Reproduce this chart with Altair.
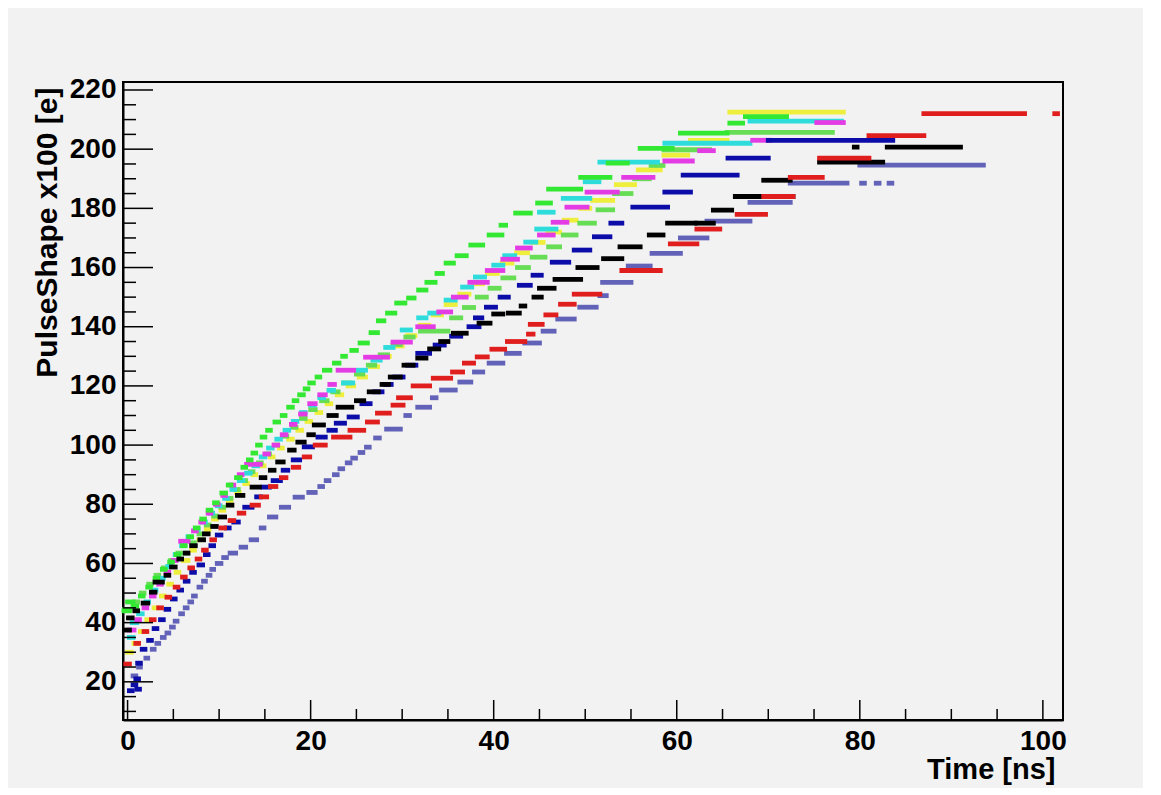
import altair as alt
import pandas as pd

# ---------------- data ----------------
series_names = ["yellow", "lightgreen", "cyan", "magenta", "green", "slate", "blue", "black", "red"]
series_colors = ["#eeee3c", "#66dd55", "#2fdcdc", "#e43ce4", "#33e833", "#6262b8", "#0c0ca8", "#000000", "#e01e1e"]

# each entry: (time start, time end, pulse height)  -> one run of dots
yellow = [(0.0,0.4,30),(0.7,1.0,33),(1.4,1.7,37),(2.1,2.4,41),(2.9,3.2,45),(3.7,4.0,49),(4.5,4.8,53),
          (5.3,5.6,57),(6.1,6.6,61),(7.0,7.3,64.5),(7.8,8.1,68),(8.6,8.9,71.5),(9.4,9.7,75),(10.2,10.5,78),
          (11.0,11.3,81),(11.9,12.2,84),(12.8,13.1,87),(13.7,14.0,90),(14.6,14.9,93),(15.6,15.9,96),
          (16.6,16.9,99),(17.6,18.0,102),(18.6,19.0,105),(19.6,20.0,108),(20.7,21.1,111),(21.8,22.2,114),
          (22.9,23.4,117),(24.1,24.7,120),(25.3,26.0,123),(26.5,27.3,126.5),(27.8,28.6,130),(29.2,30.0,133.5),
          (30.6,31.4,137),(32.0,32.9,140.5),(33.4,34.3,144),(34.8,35.8,147.5),(36.3,37.3,151),(37.8,38.8,154.5),
          (39.3,40.4,158),(40.9,42.0,161.5),(42.5,43.7,165),(44.2,45.4,168.5),(45.9,47.2,172),(47.7,49.0,176),
          (49.5,50.5,180),(50.8,53.0,182.7),(53.4,55.4,188),(55.8,58.2,193),(58.6,61.2,198),(61.5,65.5,203),
          (65.8,78.2,212.5)]

lightgreen = [(-0.3,0.3,44.5),(0.8,1.1,47),(1.5,1.8,50),(2.3,2.6,53),(3.1,3.4,56),(3.9,4.2,58.5),(4.7,5.0,61),
              (5.5,6.5,63.5),(7.0,7.3,67),(7.8,8.1,70),(8.6,8.9,73),(9.4,9.7,76),(10.2,10.5,79),(11.0,11.3,82),
              (11.8,12.1,85),(12.6,12.9,88),(13.4,13.7,91),(14.3,14.6,94),(15.2,15.5,97),(16.1,16.4,100),
              (17.0,17.4,103),(18.0,18.4,106),(19.0,19.4,109),(20.0,20.5,112),(21.2,21.8,115),(22.4,23.0,118),
              (23.6,24.3,121),(25.0,25.7,124),(26.3,27.0,127),(27.6,28.4,130.5),(29.0,29.8,134),(30.4,31.2,136.5),
              (32.0,35.0,138.5),(35.4,36.4,143),(36.8,37.8,146.5),(38.2,39.2,150),(39.6,40.6,153),(41.0,42.2,156.5),
              (42.6,43.8,160),(44.2,45.6,163.5),(46.0,47.2,167),(47.6,49.0,171),(49.4,51.0,175),(51.4,53.0,179.5),
              (53.2,55.0,185),(55.4,57.0,190),(57.2,58.5,194.5),(58.6,63.6,199.8),(65.5,77.0,205.7)]

cyan = [(0.2,0.6,35),(0.5,1.0,40),(1.2,1.6,43),(2.0,2.3,47),(2.8,3.1,51),(3.6,3.9,55),(4.4,4.7,59),(5.2,5.5,63),
        (5.9,6.2,66),(6.6,6.9,69),(7.4,7.7,71.5),(8.2,8.5,74),(9.0,9.3,77),(9.8,10.1,79.5),(10.6,10.9,82),
        (11.4,11.7,85),(12.2,12.6,88),(13.0,13.4,90.5),(13.8,14.2,93),(14.6,15.0,96),(15.4,15.8,99),
        (16.3,16.7,102),(17.2,17.6,105),(18.1,18.5,108),(19.0,19.4,111),(20.0,20.4,113.5),(21.0,21.4,116),
        (22.0,22.5,118.5),(23.6,24.6,121),(25.2,26.0,125.3),(26.8,27.6,128.7),(28.2,29.0,133),(30.0,30.9,138.9),
        (31.8,32.6,143),(33.0,34.0,144.6),(34.8,35.8,149),(36.6,37.6,153.4),(38.0,39.0,156.8),(40.0,41.0,160.8),
        (41.2,42.3,164),(43.5,44.6,168.6),(44.7,46.8,173),(45.0,46.5,178.7),(47.6,50.5,183.4),(50.0,51.5,189),
        (51.6,57.9,195.6),(58.7,68.0,202),(68.0,78.0,209.5)]

magenta = [(0.2,0.7,37.5),(1.0,1.3,41),(1.8,2.1,45),(2.6,2.9,49),(3.4,3.7,53),(4.2,4.5,57),(5.0,5.3,61),
           (5.8,6.6,67.5),(7.2,7.5,71),(8.0,8.3,74),(8.8,9.1,77),(9.6,9.9,80),(10.4,10.7,83),(11.3,11.6,86.5),
           (12.2,12.5,90),(13.0,14.5,93.5),(15.0,15.4,97),(16.0,16.4,100),(16.9,17.3,103.5),(17.9,18.3,107),
           (18.9,19.4,110.5),(19.9,20.5,114),(21.0,21.6,117),(22.1,22.6,120.5),(23.0,24.7,125.3),(26.0,28.4,129.7),
           (29.0,30.9,134.8),(31.7,33.4,140),(34.0,35.3,145),(35.6,37.0,150),(37.4,39.3,155),(39.3,41.0,159),
           (41.0,42.6,162.8),(42.6,44.0,166.6),(45.0,46.5,171),(46.5,48.0,175.3),(48.0,50.2,180.4),
           (50.2,53.5,185.5),(54.2,57.4,190.5),(58.7,61.7,196),(62.5,64.0,199.5),(68.3,70.2,203),(75.3,78.2,209)]

green = [(-0.4,0.2,44),(0.0,0.6,47),(0.6,1.0,45.5),(1.4,1.7,49),(2.2,2.5,52),(3.0,3.3,55),(3.8,4.1,58),
         (4.6,4.9,60.5),(5.3,5.6,63),(6.0,6.3,66),(6.7,7.0,69),(7.4,7.7,72),(8.1,8.4,75),(8.8,9.1,78),
         (9.5,9.8,80.5),(10.3,10.7,83.8),(11.0,11.3,86.5),(11.9,12.3,89),(12.6,12.9,92.5),(13.2,13.5,95),
         (13.7,14.0,97.3),(14.2,14.5,100),(14.7,15.0,102.7),(15.3,15.6,105),(16.1,16.5,107.8),(16.9,17.2,110),
         (17.6,18.0,112.8),(18.2,18.5,115),(18.8,19.2,117),(19.4,19.7,119),(19.9,20.3,121),(20.7,21.0,123),
         (21.5,22.1,125.3),(22.6,23.1,127.7),(23.5,23.8,130),(24.5,25.0,132),(25.4,26.2,134.5),(26.6,27.3,138),
         (27.4,28.0,142),(28.4,29.2,144.6),(29.4,30.3,148),(30.7,31.3,149.7),(31.8,32.6,152.4),(32.7,33.6,155),
         (33.8,34.4,158),(34.8,35.6,161.5),(36.0,37.0,164),(37.5,38.8,167.6),(39.5,40.9,171),(40.8,41.3,174.3),
         (42.4,44.0,178.4),(44.8,46.2,181.8),(46.0,49.5,186.5),(49.5,52.7,190.5),(52.5,54.6,195.3),
         (56.0,59.5,200.3),(60.4,65.5,205.4),(65.8,67.2,208.8),(67.5,72.0,211)]

slate = [(0.6,0.9,22),(1.2,1.4,25),(2.0,2.2,28),(2.7,2.9,31),(3.2,3.4,33),(3.8,4.0,35),(4.3,4.5,36.5),
         (4.8,5.0,38.5),(5.2,5.4,40.5),(5.8,6.0,43),(6.3,6.5,45),(6.8,7.0,47),(7.2,7.4,49),(7.8,8.0,52),
         (8.3,8.5,54),(8.8,9.0,56),(9.2,9.4,58),(9.8,10.2,60),(10.5,10.8,62),(11.2,11.8,63.5),(12.4,12.9,65.5),
         (13.5,14.1,68),(14.6,14.9,72),(15.5,16.2,75.7),(16.8,17.6,79),(18.3,19.1,82.4),(19.8,20.5,84),
         (21.0,21.3,86),(21.7,22.0,88),(22.6,22.9,90),(23.2,23.5,92),(24.0,24.3,94),(24.6,24.9,95.6),
         (25.4,25.7,97.5),(26.1,26.4,99.3),(27.1,27.5,102.4),(28.3,29.8,105.4),(30.4,30.8,110),(31.7,33.0,112.8),
         (33.3,33.7,116),(34.3,35.8,118.6),(36.3,37.5,121.3),(37.9,38.8,124.7),(39.5,41.0,127.7),(41.4,42.8,131),
         (43.4,45.0,134.5),(45.4,46.6,138.5),(47.0,48.8,142.6),(49.4,51.2,146.6),(51.6,52.3,150.5),
         (51.9,55.0,155),(54.7,57.1,160.5),(57.3,60.4,164.8),(60.4,63.3,170),(63.3,68.0,175.7),(68.0,72.4,182),
         (72.4,78.6,188.5),(80.2,80.5,188.5),(81.8,82.1,188.5),(83.2,83.5,188.5),(80.0,93.5,194.6)]

blue = [(0.2,0.5,17),(0.6,0.9,19),(1.0,1.3,17.5),(0.9,1.2,21),(1.1,1.4,26.3),(1.6,1.9,31),(2.3,2.6,34),
        (2.9,3.2,38),(3.6,3.9,41),(4.2,4.5,44.5),(4.9,5.2,48),(5.6,5.9,51),(6.3,6.6,54),(7.0,7.3,57),
        (7.8,8.2,59.5),(8.5,8.8,63),(9.1,9.4,66),(9.8,10.2,69.6),(10.8,11.1,72),(11.6,12.1,74),(12.8,13.6,79),
        (14.1,14.5,82.5),(14.8,15.5,85.8),(15.9,16.7,88),(17.0,17.5,91.5),(18.1,18.8,95),(19.3,20.2,99.4),
        (20.8,21.6,102.7),(22.0,22.7,105),(22.8,23.7,107.4),(24.2,25.1,109.5),(25.6,26.5,114),(27.0,27.8,118),
        (28.2,28.8,120.5),(29.2,30.1,123),(30.6,31.5,127),(31.7,33.0,131),(33.6,34.6,133.8),(35.4,36.4,136.8),
        (37.3,38.4,140),(38.0,38.7,143),(39.2,40.2,146.6),(40.7,41.6,150),(42.8,44.0,154),(44.3,45.2,157.4),
        (46.4,48.2,161.8),(48.8,50.5,165.9),(51.0,52.7,170.4),(52.8,54.0,175),(55.2,59.0,180.4),
        (58.7,61.5,185.5),(60.7,66.6,191.2),(65.6,70.0,197),(70.0,83.6,203)]

black = [(-0.2,0.2,37.5),(0.1,0.5,41.6),(0.8,1.1,44),(1.7,2.2,46.6),(2.6,3.0,50.3),(3.0,3.8,53.7),(4.2,4.5,56),
         (4.8,5.2,58.8),(5.6,5.9,61.5),(6.3,6.6,63.5),(7.0,7.4,66),(7.9,8.3,68),(8.4,8.8,70),(9.3,9.7,72.5),
         (10.1,10.6,75.7),(11.0,11.4,79.7),(12.0,12.6,83),(13.6,14.4,85.8),(14.6,15.0,89),(15.6,16.0,91.5),
         (16.4,17.0,94.3),(17.7,18.2,98.3),(18.6,19.3,101),(19.8,20.3,103.5),(20.4,21.4,106.8),(22.0,22.8,110),
         (23.0,24.5,112.8),(25.0,25.8,115),(26.4,27.4,118),(27.8,28.5,120.5),(28.7,29.8,123),(30.2,31.2,127),
         (31.7,32.6,129.4),(33.0,34.0,132.5),(34.2,35.0,135),(35.6,37.0,137.8),(38.4,39.6,141.2),
         (40.0,41.0,144.3),(41.6,42.8,144.6),(43.0,43.4,147),(44.4,45.2,150),(45.0,46.6,153),(46.7,49.5,156),
         (49.2,51.3,160),(52.0,54.0,163),(53.8,56.0,167),(57.0,58.5,171),(59.0,62.0,175),(62.2,64.0,175),
         (64.0,66.0,179.4),(66.4,72.7,184),(69.5,72.4,189.5),(75.6,82.5,195.6),(79.4,79.7,200.7),
         (83.0,91.0,200.7)]

red = [(-0.2,0.2,26),(0.9,1.2,33),(1.8,2.1,37),(2.6,2.9,41),(3.4,3.7,45),(4.3,4.6,48.6),(5.2,5.5,52),
       (6.0,6.3,55.4),(6.8,7.1,58.5),(7.6,7.9,61.5),(8.3,8.6,64.5),(9.2,9.5,68),(10.2,10.6,72),(11.2,11.6,74.5),
       (12.2,12.7,77),(13.6,14.3,79.7),(14.6,15.2,82.5),(15.6,16.2,86),(16.8,17.3,89),(18.1,18.7,92.5),
       (19.3,19.9,96),(20.5,21.6,100),(22.5,24.3,102.7),(24.3,25.8,105),(26.2,27.3,107.8),(27.3,28.6,110.8),
       (29.0,30.1,113.5),(29.6,30.9,116),(31.2,33.0,120),(33.4,35.3,122.6),(35.5,36.6,124.7),(36.8,37.8,127.7),
       (38.2,39.3,129.8),(39.8,41.2,132.4),(41.5,43.4,135),(43.8,44.3,137.5),(44.0,45.3,140.8),(45.7,46.8,144),
       (47.3,48.8,147.6),(48.8,51.6,151),(54.0,58.2,159),(59.3,62.2,168),(62.2,64.7,173),(66.6,69.7,178),
       (69.5,72.7,184),(72.4,75.9,190.5),(75.6,81.0,197),(81.0,87.0,204.6),(87.0,98.0,212),(101.3,101.6,212)]

all_series = [yellow, lightgreen, cyan, magenta, green, slate, blue, black, red]

x_major = [0, 20, 40, 60, 80, 100]
x_minor = [5, 10, 15, 25, 30, 35, 45, 50, 55, 65, 70, 75, 85, 90, 95]
y_major = [20, 40, 60, 80, 100, 120, 140, 160, 180, 200, 220]
y_minor = [10, 15, 25, 30, 35, 45, 50, 55, 65, 70, 75, 85, 90, 95, 105, 110, 115, 125, 130, 135,
           145, 150, 155, 165, 170, 175, 185, 190, 195, 205, 210, 215]

x_domain = [-0.5, 102.2]
y_domain = [7.1, 222.7]

# ---------------- build table ----------------
rows = []
for order, (name, segs) in enumerate(zip(series_names, all_series)):
    for x0, x1, y in segs:
        rows.append({"series": name, "order": order, "t0": x0, "t1": x1, "q": y})
df = pd.DataFrame(rows)

W, H = 940, 638
BG = "#f2f2f2"
FONT = "Liberation Sans"
xs = alt.Scale(domain=x_domain, nice=False, zero=False)
ys = alt.Scale(domain=y_domain, nice=False, zero=False)

x_axis = alt.Axis(
    values=x_major, ticks=False, grid=False, domain=True, domainColor="black", domainWidth=2,
    labelFont=FONT, labelFontWeight="bold", labelFontSize=28, labelColor="black",
    labelPadding=7, labelFlush=False,
    title="Time [ns]", titleFont=FONT, titleFontWeight="bold", titleFontSize=29,
    titleColor="black", titleX=932, titleY=58, titleAlign="right", titleBaseline="alphabetic", titleAngle=0,
)
y_axis = alt.Axis(
    values=y_major, ticks=False, grid=False, domain=True, domainColor="black", domainWidth=2,
    labelFont=FONT, labelFontWeight="bold", labelFontSize=28, labelColor="black",
    labelPadding=7, labelFlush=False, labelBaseline="middle",
    title="PulseShape x100 [e]", titleFont=FONT, titleFontWeight="bold", titleFontSize=30,
    titleColor="black", titleX=-76, titleY=5, titleAlign="right", titleBaseline="middle", titleAngle=270,
)

xmaj = alt.Chart(pd.DataFrame({"t0": x_major})).mark_rule(color="black", strokeWidth=1.5).encode(
    x=alt.X("t0:Q", scale=xs, axis=x_axis), y=alt.value(H), y2=alt.value(H - 20))
xmin = alt.Chart(pd.DataFrame({"t0": x_minor})).mark_rule(color="black", strokeWidth=1.5).encode(
    x=alt.X("t0:Q", scale=xs, axis=x_axis), y=alt.value(H), y2=alt.value(H - 11))
ymaj = alt.Chart(pd.DataFrame({"q": y_major})).mark_rule(color="black", strokeWidth=1.5).encode(
    y=alt.Y("q:Q", scale=ys, axis=y_axis), x=alt.value(0), x2=alt.value(30))
ymin = alt.Chart(pd.DataFrame({"q": y_minor})).mark_rule(color="black", strokeWidth=1.5).encode(
    y=alt.Y("q:Q", scale=ys, axis=y_axis), x=alt.value(0), x2=alt.value(13))

dots = alt.Chart(df).mark_rule(strokeWidth=4.8, strokeCap="square").encode(
    x=alt.X("t0:Q", scale=xs, axis=x_axis),
    x2="t1:Q",
    y=alt.Y("q:Q", scale=ys, axis=y_axis),
    color=alt.Color("series:N", scale=alt.Scale(domain=series_names, range=series_colors), legend=None),
    order=alt.Order("order:Q"),
)

chart = alt.layer(dots, xmaj, xmin, ymaj, ymin).properties(
    width=W, height=H,
    autosize=alt.AutoSizeParams(type="none"),
    padding={"left": 115, "top": 74, "right": 80, "bottom": 68},
    background=BG,
).configure_view(stroke="black", strokeWidth=2, fill=BG)

chart.save("out.html", embed_options={"renderer": "svg", "actions": False})
